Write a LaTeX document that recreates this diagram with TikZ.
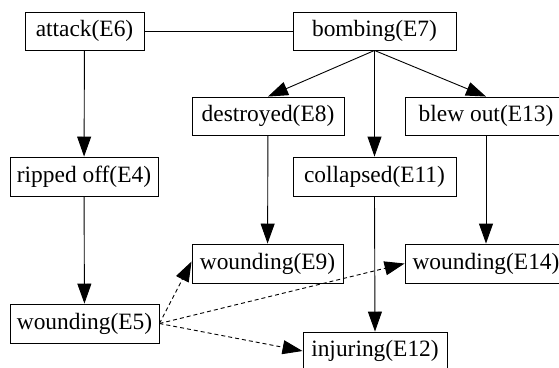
\documentclass[tikz,border=0pt]{standalone}
\usepackage{fontspec}
\setmainfont{Liberation Serif}
\usetikzlibrary{arrows.meta, positioning}

\begin{document}
\begin{tikzpicture}[x=1bp, y=-1bp,
    event/.style={draw, line width=0.9bp, minimum height=38bp, inner sep=0pt,
                  font=\fontsize{23.5}{28}\selectfont},
    causal/.style={-{Triangle[length=20bp, width=14bp]}, line width=0.9bp},
    weak/.style={causal, dash pattern=on 4bp off 3bp}]
    \useasboundingbox (0,0) rectangle (559,367);

    % top row
    \node[event, minimum width=119bp] (attack) at (84.5,31) {attack(E6)};
    \node[event, minimum width=163bp] (bombing) at (374.5,31) {bombing(E7)};

    % second row
    \node[event, minimum width=152bp] (destroyed) at (268,116) {destroyed(E8)};
    \node[event, minimum width=162bp] (blewout) at (486,116) {blew out(E13)};

    % third row
    \node[event, minimum width=148bp, minimum height=39bp] (ripped) at (84,176.5) {ripped off(E4)};
    \node[event, minimum width=163bp, minimum height=39bp] (collapsed) at (374.5,176.5) {collapsed(E11)};

    % fourth row
    \node[event, minimum width=151bp, minimum height=39bp] (woundE9) at (267.5,263.5) {wounding(E9)};
    \node[event, minimum width=162bp, minimum height=39bp] (woundE14) at (486,263.5) {wounding(E14)};

    % bottom
    \node[event, minimum width=149bp, minimum height=39bp] (woundE5) at (84.5,323.5) {wounding(E5)};
    \node[event, minimum width=144bp] (injuring) at (375,351) {injuring(E12)};

    % links
    \draw[line width=0.9bp] (attack) -- (bombing);
    \draw[causal] (attack) -- (ripped);
    \draw[causal] (ripped) -- (woundE5);
    \draw[causal] (bombing.south) -- (destroyed.north);
    \draw[causal] (bombing.south) -- (collapsed.north);
    \draw[causal] (bombing.south) -- (blewout.north);
    \draw[causal] (destroyed) -- (woundE9);
    \draw[causal] (blewout.south) -- (woundE14.north);
    \draw[causal] (collapsed.south) -- (injuring.north);

    % dashed links
    \draw[weak] (woundE5.east) -- ([yshift=2bp]woundE9.west);
    \draw[weak] (woundE5.east) -- (woundE14.west);
    \draw[weak] (woundE5.east) -- (injuring.west);
\end{tikzpicture}
\end{document}
